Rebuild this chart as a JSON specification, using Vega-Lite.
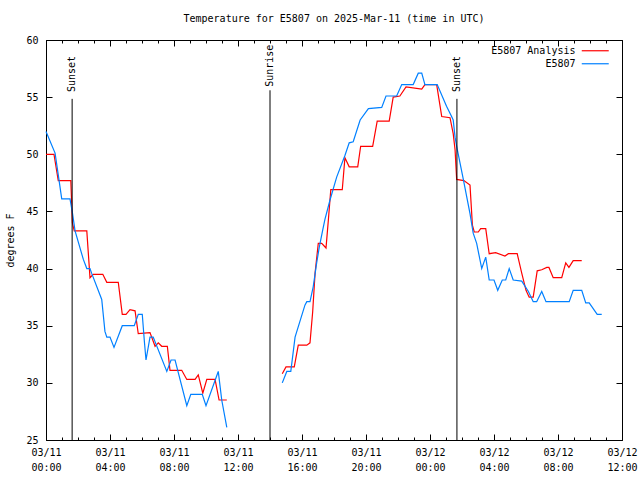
{
  "$schema": "https://vega.github.io/schema/vega-lite/v6.json",
  "width": 576,
  "height": 400,
  "autosize": {"type": "none"},
  "padding": {"left": 46, "top": 40, "right": 18, "bottom": 40},
  "background": "white",
  "title": {"text": "Temperature for E5807 on 2025-Mar-11 (time in UTC)", "font": "DejaVu Sans Mono", "fontSize": 10, "fontWeight": "normal", "anchor": "middle", "offset": 11, "color": "black"},
  "config": {
    "view": {"stroke": "black", "strokeWidth": 1},
    "axis": {"labelFont": "DejaVu Sans Mono", "labelFontSize": 10, "titleFont": "DejaVu Sans Mono", "titleFontSize": 10, "titleFontWeight": "normal", "labelColor": "black", "titleColor": "black", "tickColor": "black", "domain": false, "grid": false},
    "legend": {"labelFont": "DejaVu Sans Mono", "labelFontSize": 10, "labelColor": "black"}
  },
  "datasets": {
    "obs": [
      {"series": "E5807 Analysis", "seg": 1, "time": "2025-03-11T00:00Z", "temp": 50.0},
      {"series": "E5807 Analysis", "seg": 1, "time": "2025-03-11T00:30Z", "temp": 50.0},
      {"series": "E5807 Analysis", "seg": 1, "time": "2025-03-11T00:46Z", "temp": 47.7},
      {"series": "E5807 Analysis", "seg": 1, "time": "2025-03-11T01:33Z", "temp": 47.7},
      {"series": "E5807 Analysis", "seg": 1, "time": "2025-03-11T01:39Z", "temp": 44.0},
      {"series": "E5807 Analysis", "seg": 1, "time": "2025-03-11T01:46Z", "temp": 43.3},
      {"series": "E5807 Analysis", "seg": 1, "time": "2025-03-11T02:33Z", "temp": 43.3},
      {"series": "E5807 Analysis", "seg": 1, "time": "2025-03-11T02:45Z", "temp": 39.2},
      {"series": "E5807 Analysis", "seg": 1, "time": "2025-03-11T02:57Z", "temp": 39.5},
      {"series": "E5807 Analysis", "seg": 1, "time": "2025-03-11T03:33Z", "temp": 39.5},
      {"series": "E5807 Analysis", "seg": 1, "time": "2025-03-11T03:48Z", "temp": 38.8},
      {"series": "E5807 Analysis", "seg": 1, "time": "2025-03-11T04:31Z", "temp": 38.8},
      {"series": "E5807 Analysis", "seg": 1, "time": "2025-03-11T04:46Z", "temp": 36.0},
      {"series": "E5807 Analysis", "seg": 1, "time": "2025-03-11T05:00Z", "temp": 36.0},
      {"series": "E5807 Analysis", "seg": 1, "time": "2025-03-11T05:15Z", "temp": 36.4},
      {"series": "E5807 Analysis", "seg": 1, "time": "2025-03-11T05:34Z", "temp": 36.3},
      {"series": "E5807 Analysis", "seg": 1, "time": "2025-03-11T05:46Z", "temp": 34.3},
      {"series": "E5807 Analysis", "seg": 1, "time": "2025-03-11T06:30Z", "temp": 34.4},
      {"series": "E5807 Analysis", "seg": 1, "time": "2025-03-11T06:49Z", "temp": 33.2},
      {"series": "E5807 Analysis", "seg": 1, "time": "2025-03-11T07:01Z", "temp": 33.5},
      {"series": "E5807 Analysis", "seg": 1, "time": "2025-03-11T07:14Z", "temp": 33.2},
      {"series": "E5807 Analysis", "seg": 1, "time": "2025-03-11T07:35Z", "temp": 33.2},
      {"series": "E5807 Analysis", "seg": 1, "time": "2025-03-11T07:45Z", "temp": 31.1},
      {"series": "E5807 Analysis", "seg": 1, "time": "2025-03-11T08:29Z", "temp": 31.1},
      {"series": "E5807 Analysis", "seg": 1, "time": "2025-03-11T08:48Z", "temp": 30.3},
      {"series": "E5807 Analysis", "seg": 1, "time": "2025-03-11T09:19Z", "temp": 30.3},
      {"series": "E5807 Analysis", "seg": 1, "time": "2025-03-11T09:31Z", "temp": 30.7},
      {"series": "E5807 Analysis", "seg": 1, "time": "2025-03-11T09:48Z", "temp": 29.1},
      {"series": "E5807 Analysis", "seg": 1, "time": "2025-03-11T10:03Z", "temp": 30.3},
      {"series": "E5807 Analysis", "seg": 1, "time": "2025-03-11T10:34Z", "temp": 30.3},
      {"series": "E5807 Analysis", "seg": 1, "time": "2025-03-11T10:49Z", "temp": 28.5},
      {"series": "E5807 Analysis", "seg": 1, "time": "2025-03-11T11:18Z", "temp": 28.5},
      {"series": "E5807 Analysis", "seg": 2, "time": "2025-03-11T14:46Z", "temp": 30.8},
      {"series": "E5807 Analysis", "seg": 2, "time": "2025-03-11T15:00Z", "temp": 31.4},
      {"series": "E5807 Analysis", "seg": 2, "time": "2025-03-11T15:31Z", "temp": 31.4},
      {"series": "E5807 Analysis", "seg": 2, "time": "2025-03-11T15:46Z", "temp": 33.3},
      {"series": "E5807 Analysis", "seg": 2, "time": "2025-03-11T16:18Z", "temp": 33.3},
      {"series": "E5807 Analysis", "seg": 2, "time": "2025-03-11T16:30Z", "temp": 33.5},
      {"series": "E5807 Analysis", "seg": 2, "time": "2025-03-11T16:40Z", "temp": 36.2},
      {"series": "E5807 Analysis", "seg": 2, "time": "2025-03-11T16:49Z", "temp": 39.6},
      {"series": "E5807 Analysis", "seg": 2, "time": "2025-03-11T17:01Z", "temp": 42.2},
      {"series": "E5807 Analysis", "seg": 2, "time": "2025-03-11T17:14Z", "temp": 42.2},
      {"series": "E5807 Analysis", "seg": 2, "time": "2025-03-11T17:30Z", "temp": 41.8},
      {"series": "E5807 Analysis", "seg": 2, "time": "2025-03-11T17:39Z", "temp": 44.3},
      {"series": "E5807 Analysis", "seg": 2, "time": "2025-03-11T17:48Z", "temp": 46.9},
      {"series": "E5807 Analysis", "seg": 2, "time": "2025-03-11T18:31Z", "temp": 46.9},
      {"series": "E5807 Analysis", "seg": 2, "time": "2025-03-11T18:41Z", "temp": 49.7},
      {"series": "E5807 Analysis", "seg": 2, "time": "2025-03-11T18:57Z", "temp": 48.9},
      {"series": "E5807 Analysis", "seg": 2, "time": "2025-03-11T19:29Z", "temp": 48.9},
      {"series": "E5807 Analysis", "seg": 2, "time": "2025-03-11T19:40Z", "temp": 50.7},
      {"series": "E5807 Analysis", "seg": 2, "time": "2025-03-11T20:25Z", "temp": 50.7},
      {"series": "E5807 Analysis", "seg": 2, "time": "2025-03-11T20:42Z", "temp": 52.9},
      {"series": "E5807 Analysis", "seg": 2, "time": "2025-03-11T21:27Z", "temp": 52.9},
      {"series": "E5807 Analysis", "seg": 2, "time": "2025-03-11T21:42Z", "temp": 55.0},
      {"series": "E5807 Analysis", "seg": 2, "time": "2025-03-11T22:07Z", "temp": 55.1},
      {"series": "E5807 Analysis", "seg": 2, "time": "2025-03-11T22:30Z", "temp": 55.9},
      {"series": "E5807 Analysis", "seg": 2, "time": "2025-03-11T23:29Z", "temp": 55.7},
      {"series": "E5807 Analysis", "seg": 2, "time": "2025-03-11T23:41Z", "temp": 56.1},
      {"series": "E5807 Analysis", "seg": 2, "time": "2025-03-12T00:25Z", "temp": 56.1},
      {"series": "E5807 Analysis", "seg": 2, "time": "2025-03-12T00:44Z", "temp": 53.3},
      {"series": "E5807 Analysis", "seg": 2, "time": "2025-03-12T01:15Z", "temp": 53.2},
      {"series": "E5807 Analysis", "seg": 2, "time": "2025-03-12T01:27Z", "temp": 51.8},
      {"series": "E5807 Analysis", "seg": 2, "time": "2025-03-12T01:34Z", "temp": 50.4},
      {"series": "E5807 Analysis", "seg": 2, "time": "2025-03-12T01:40Z", "temp": 47.8},
      {"series": "E5807 Analysis", "seg": 2, "time": "2025-03-12T02:07Z", "temp": 47.7},
      {"series": "E5807 Analysis", "seg": 2, "time": "2025-03-12T02:30Z", "temp": 47.3},
      {"series": "E5807 Analysis", "seg": 2, "time": "2025-03-12T02:39Z", "temp": 43.8},
      {"series": "E5807 Analysis", "seg": 2, "time": "2025-03-12T02:46Z", "temp": 43.2},
      {"series": "E5807 Analysis", "seg": 2, "time": "2025-03-12T03:01Z", "temp": 43.2},
      {"series": "E5807 Analysis", "seg": 2, "time": "2025-03-12T03:10Z", "temp": 43.5},
      {"series": "E5807 Analysis", "seg": 2, "time": "2025-03-12T03:29Z", "temp": 43.5},
      {"series": "E5807 Analysis", "seg": 2, "time": "2025-03-12T03:42Z", "temp": 41.3},
      {"series": "E5807 Analysis", "seg": 2, "time": "2025-03-12T04:06Z", "temp": 41.4},
      {"series": "E5807 Analysis", "seg": 2, "time": "2025-03-12T04:41Z", "temp": 41.1},
      {"series": "E5807 Analysis", "seg": 2, "time": "2025-03-12T04:54Z", "temp": 41.3},
      {"series": "E5807 Analysis", "seg": 2, "time": "2025-03-12T05:27Z", "temp": 41.3},
      {"series": "E5807 Analysis", "seg": 2, "time": "2025-03-12T05:44Z", "temp": 39.6},
      {"series": "E5807 Analysis", "seg": 2, "time": "2025-03-12T06:00Z", "temp": 38.1},
      {"series": "E5807 Analysis", "seg": 2, "time": "2025-03-12T06:12Z", "temp": 37.5},
      {"series": "E5807 Analysis", "seg": 2, "time": "2025-03-12T06:27Z", "temp": 37.5},
      {"series": "E5807 Analysis", "seg": 2, "time": "2025-03-12T06:42Z", "temp": 39.8},
      {"series": "E5807 Analysis", "seg": 2, "time": "2025-03-12T06:59Z", "temp": 39.9},
      {"series": "E5807 Analysis", "seg": 2, "time": "2025-03-12T07:18Z", "temp": 40.1},
      {"series": "E5807 Analysis", "seg": 2, "time": "2025-03-12T07:26Z", "temp": 40.1},
      {"series": "E5807 Analysis", "seg": 2, "time": "2025-03-12T07:42Z", "temp": 39.2},
      {"series": "E5807 Analysis", "seg": 2, "time": "2025-03-12T08:14Z", "temp": 39.2},
      {"series": "E5807 Analysis", "seg": 2, "time": "2025-03-12T08:29Z", "temp": 40.5},
      {"series": "E5807 Analysis", "seg": 2, "time": "2025-03-12T08:41Z", "temp": 40.1},
      {"series": "E5807 Analysis", "seg": 2, "time": "2025-03-12T08:57Z", "temp": 40.7},
      {"series": "E5807 Analysis", "seg": 2, "time": "2025-03-12T09:29Z", "temp": 40.7},
      {"series": "E5807", "seg": 1, "time": "2025-03-11T00:00Z", "temp": 52.0},
      {"series": "E5807", "seg": 1, "time": "2025-03-11T00:34Z", "temp": 50.1},
      {"series": "E5807", "seg": 1, "time": "2025-03-11T00:46Z", "temp": 48.2},
      {"series": "E5807", "seg": 1, "time": "2025-03-11T00:59Z", "temp": 46.1},
      {"series": "E5807", "seg": 1, "time": "2025-03-11T01:30Z", "temp": 46.1},
      {"series": "E5807", "seg": 1, "time": "2025-03-11T01:39Z", "temp": 44.9},
      {"series": "E5807", "seg": 1, "time": "2025-03-11T01:49Z", "temp": 43.3},
      {"series": "E5807", "seg": 1, "time": "2025-03-11T02:20Z", "temp": 40.8},
      {"series": "E5807", "seg": 1, "time": "2025-03-11T02:33Z", "temp": 40.0},
      {"series": "E5807", "seg": 1, "time": "2025-03-11T02:45Z", "temp": 40.0},
      {"series": "E5807", "seg": 1, "time": "2025-03-11T02:51Z", "temp": 39.6},
      {"series": "E5807", "seg": 1, "time": "2025-03-11T03:29Z", "temp": 37.3},
      {"series": "E5807", "seg": 1, "time": "2025-03-11T03:41Z", "temp": 34.5},
      {"series": "E5807", "seg": 1, "time": "2025-03-11T03:48Z", "temp": 34.0},
      {"series": "E5807", "seg": 1, "time": "2025-03-11T04:00Z", "temp": 34.0},
      {"series": "E5807", "seg": 1, "time": "2025-03-11T04:15Z", "temp": 33.1},
      {"series": "E5807", "seg": 1, "time": "2025-03-11T04:46Z", "temp": 35.0},
      {"series": "E5807", "seg": 1, "time": "2025-03-11T05:31Z", "temp": 35.0},
      {"series": "E5807", "seg": 1, "time": "2025-03-11T05:46Z", "temp": 36.0},
      {"series": "E5807", "seg": 1, "time": "2025-03-11T06:01Z", "temp": 36.0},
      {"series": "E5807", "seg": 1, "time": "2025-03-11T06:09Z", "temp": 33.6},
      {"series": "E5807", "seg": 1, "time": "2025-03-11T06:15Z", "temp": 32.0},
      {"series": "E5807", "seg": 1, "time": "2025-03-11T06:30Z", "temp": 34.0},
      {"series": "E5807", "seg": 1, "time": "2025-03-11T06:42Z", "temp": 34.0},
      {"series": "E5807", "seg": 1, "time": "2025-03-11T07:33Z", "temp": 31.0},
      {"series": "E5807", "seg": 1, "time": "2025-03-11T07:49Z", "temp": 32.0},
      {"series": "E5807", "seg": 1, "time": "2025-03-11T08:04Z", "temp": 32.0},
      {"series": "E5807", "seg": 1, "time": "2025-03-11T08:48Z", "temp": 28.0},
      {"series": "E5807", "seg": 1, "time": "2025-03-11T09:03Z", "temp": 29.0},
      {"series": "E5807", "seg": 1, "time": "2025-03-11T09:46Z", "temp": 29.0},
      {"series": "E5807", "seg": 1, "time": "2025-03-11T10:00Z", "temp": 28.0},
      {"series": "E5807", "seg": 1, "time": "2025-03-11T10:46Z", "temp": 31.0},
      {"series": "E5807", "seg": 1, "time": "2025-03-11T10:59Z", "temp": 28.5},
      {"series": "E5807", "seg": 1, "time": "2025-03-11T11:18Z", "temp": 26.1},
      {"series": "E5807", "seg": 2, "time": "2025-03-11T14:46Z", "temp": 30.0},
      {"series": "E5807", "seg": 2, "time": "2025-03-11T15:03Z", "temp": 31.0},
      {"series": "E5807", "seg": 2, "time": "2025-03-11T15:18Z", "temp": 31.0},
      {"series": "E5807", "seg": 2, "time": "2025-03-11T15:34Z", "temp": 34.0},
      {"series": "E5807", "seg": 2, "time": "2025-03-11T16:11Z", "temp": 36.8},
      {"series": "E5807", "seg": 2, "time": "2025-03-11T16:18Z", "temp": 37.1},
      {"series": "E5807", "seg": 2, "time": "2025-03-11T16:30Z", "temp": 37.1},
      {"series": "E5807", "seg": 2, "time": "2025-03-11T16:42Z", "temp": 38.4},
      {"series": "E5807", "seg": 2, "time": "2025-03-11T16:55Z", "temp": 40.5},
      {"series": "E5807", "seg": 2, "time": "2025-03-11T17:05Z", "temp": 41.9},
      {"series": "E5807", "seg": 2, "time": "2025-03-11T17:18Z", "temp": 43.4},
      {"series": "E5807", "seg": 2, "time": "2025-03-11T17:26Z", "temp": 44.3},
      {"series": "E5807", "seg": 2, "time": "2025-03-11T17:45Z", "temp": 46.0},
      {"series": "E5807", "seg": 2, "time": "2025-03-11T18:10Z", "temp": 48.0},
      {"series": "E5807", "seg": 2, "time": "2025-03-11T18:41Z", "temp": 49.9},
      {"series": "E5807", "seg": 2, "time": "2025-03-11T18:57Z", "temp": 51.0},
      {"series": "E5807", "seg": 2, "time": "2025-03-11T19:12Z", "temp": 51.1},
      {"series": "E5807", "seg": 2, "time": "2025-03-11T19:38Z", "temp": 53.0},
      {"series": "E5807", "seg": 2, "time": "2025-03-11T20:09Z", "temp": 54.0},
      {"series": "E5807", "seg": 2, "time": "2025-03-11T20:59Z", "temp": 54.1},
      {"series": "E5807", "seg": 2, "time": "2025-03-11T21:15Z", "temp": 55.1},
      {"series": "E5807", "seg": 2, "time": "2025-03-11T21:55Z", "temp": 55.1},
      {"series": "E5807", "seg": 2, "time": "2025-03-11T22:14Z", "temp": 56.1},
      {"series": "E5807", "seg": 2, "time": "2025-03-11T22:57Z", "temp": 56.1},
      {"series": "E5807", "seg": 2, "time": "2025-03-11T23:16Z", "temp": 57.1},
      {"series": "E5807", "seg": 2, "time": "2025-03-11T23:29Z", "temp": 57.1},
      {"series": "E5807", "seg": 2, "time": "2025-03-11T23:41Z", "temp": 56.1},
      {"series": "E5807", "seg": 2, "time": "2025-03-12T00:27Z", "temp": 56.1},
      {"series": "E5807", "seg": 2, "time": "2025-03-12T01:02Z", "temp": 54.2},
      {"series": "E5807", "seg": 2, "time": "2025-03-12T01:21Z", "temp": 53.3},
      {"series": "E5807", "seg": 2, "time": "2025-03-12T01:27Z", "temp": 53.0},
      {"series": "E5807", "seg": 2, "time": "2025-03-12T01:34Z", "temp": 51.5},
      {"series": "E5807", "seg": 2, "time": "2025-03-12T01:40Z", "temp": 50.7},
      {"series": "E5807", "seg": 2, "time": "2025-03-12T02:05Z", "temp": 47.8},
      {"series": "E5807", "seg": 2, "time": "2025-03-12T02:30Z", "temp": 44.8},
      {"series": "E5807", "seg": 2, "time": "2025-03-12T02:42Z", "temp": 43.1},
      {"series": "E5807", "seg": 2, "time": "2025-03-12T02:55Z", "temp": 42.2},
      {"series": "E5807", "seg": 2, "time": "2025-03-12T03:14Z", "temp": 40.0},
      {"series": "E5807", "seg": 2, "time": "2025-03-12T03:29Z", "temp": 41.0},
      {"series": "E5807", "seg": 2, "time": "2025-03-12T03:42Z", "temp": 39.0},
      {"series": "E5807", "seg": 2, "time": "2025-03-12T04:00Z", "temp": 39.0},
      {"series": "E5807", "seg": 2, "time": "2025-03-12T04:14Z", "temp": 38.1},
      {"series": "E5807", "seg": 2, "time": "2025-03-12T04:31Z", "temp": 39.0},
      {"series": "E5807", "seg": 2, "time": "2025-03-12T04:44Z", "temp": 39.0},
      {"series": "E5807", "seg": 2, "time": "2025-03-12T04:57Z", "temp": 40.0},
      {"series": "E5807", "seg": 2, "time": "2025-03-12T05:12Z", "temp": 39.0},
      {"series": "E5807", "seg": 2, "time": "2025-03-12T05:44Z", "temp": 38.9},
      {"series": "E5807", "seg": 2, "time": "2025-03-12T06:09Z", "temp": 38.0},
      {"series": "E5807", "seg": 2, "time": "2025-03-12T06:27Z", "temp": 37.1},
      {"series": "E5807", "seg": 2, "time": "2025-03-12T06:40Z", "temp": 37.1},
      {"series": "E5807", "seg": 2, "time": "2025-03-12T06:59Z", "temp": 38.0},
      {"series": "E5807", "seg": 2, "time": "2025-03-12T07:15Z", "temp": 37.1},
      {"series": "E5807", "seg": 2, "time": "2025-03-12T08:42Z", "temp": 37.1},
      {"series": "E5807", "seg": 2, "time": "2025-03-12T08:57Z", "temp": 38.1},
      {"series": "E5807", "seg": 2, "time": "2025-03-12T09:29Z", "temp": 38.1},
      {"series": "E5807", "seg": 2, "time": "2025-03-12T09:44Z", "temp": 37.0},
      {"series": "E5807", "seg": 2, "time": "2025-03-12T09:57Z", "temp": 37.0},
      {"series": "E5807", "seg": 2, "time": "2025-03-12T10:27Z", "temp": 36.0},
      {"series": "E5807", "seg": 2, "time": "2025-03-12T10:44Z", "temp": 36.0}
    ],
    "events": [
      {"time": "2025-03-11T01:38Z", "event": "Sunset"},
      {"time": "2025-03-11T14:00Z", "event": "Sunrise"},
      {"time": "2025-03-12T01:41Z", "event": "Sunset"}
    ]
  },
  "resolve": {"scale": {"x": "shared", "y": "shared"}, "axis": {"x": "independent", "y": "independent"}},
  "layer": [
    {
      "data": {"name": "obs"},
      "mark": {"type": "line", "strokeWidth": 1.2},
      "encoding": {
        "x": {"field": "time", "type": "temporal",
          "scale": {"type": "utc", "domain": [1741651200000, 1741780800000]},
          "axis": {"orient": "bottom", "title": null, "ticks": false, "values": [1741651200000, 1741665600000, 1741680000000, 1741694400000, 1741708800000, 1741723200000, 1741737600000, 1741752000000, 1741766400000, 1741780800000], "labelExpr": "[utcFormat(datum.value, '%m/%d'), utcFormat(datum.value, '%H:%M')]", "labelBaseline": "top", "labelPadding": 7, "labelLineHeight": 15, "labelOverlap": false, "labelFlush": false, "labelAlign": "center"}},
        "y": {"field": "temp", "type": "quantitative",
          "scale": {"domain": [25, 60], "nice": false, "zero": false},
          "axis": {"orient": "left", "ticks": false, "values": [25, 30, 35, 40, 45, 50, 55, 60], "labelPadding": 8, "title": "degrees F", "titleX": -36, "titleY": 200, "titleAngle": 270, "titleAlign": "center", "titleBaseline": "middle"}},
        "color": {"field": "series", "type": "nominal",
          "scale": {"domain": ["E5807 Analysis", "E5807"], "range": ["#ff0000", "#0080ff"]},
          "legend": {"orient": "none", "title": null, "legendX": 541.75, "legendY": 3.25, "padding": 0, "rowPadding": 0, "symbolType": "M-2,0L2,0", "symbolSize": 182, "symbolStrokeWidth": 1.2, "labelAlign": "right", "labelOffset": -27.25, "labelBaseline": "middle"}},
        "detail": {"field": "seg", "type": "nominal"}
      }
    },
    {
      "data": {"name": "events"},
      "transform": [{"filter": "datum.event === 'Sunset'"}],
      "mark": {"type": "rule", "color": "black", "strokeWidth": 1},
      "encoding": {
        "x": {"field": "time", "type": "temporal", "scale": {"type": "utc"},
          "axis": {"orient": "bottom", "title": null, "labels": false, "tickSize": -6, "values": [1741651200000, 1741665600000, 1741680000000, 1741694400000, 1741708800000, 1741723200000, 1741737600000, 1741752000000, 1741766400000, 1741780800000]}},
        "y": {"datum": 54.85, "type": "quantitative",
          "axis": {"orient": "left", "title": null, "labels": false, "tickSize": -6, "values": [25, 30, 35, 40, 45, 50, 55, 60]}},
        "y2": {"datum": 25}
      }
    },
    {
      "data": {"name": "events"},
      "transform": [{"filter": "datum.event === 'Sunrise'"}],
      "mark": {"type": "rule", "color": "black", "strokeWidth": 1},
      "encoding": {
        "x": {"field": "time", "type": "temporal", "scale": {"type": "utc"},
          "axis": {"orient": "top", "title": null, "labels": false, "tickSize": -6, "values": [1741651200000, 1741665600000, 1741680000000, 1741694400000, 1741708800000, 1741723200000, 1741737600000, 1741752000000, 1741766400000, 1741780800000]}},
        "y": {"datum": 55.6, "type": "quantitative",
          "axis": {"orient": "right", "title": null, "labels": false, "tickSize": -6, "values": [25, 30, 35, 40, 45, 50, 55, 60]}},
        "y2": {"datum": 25}
      }
    },
    {
      "data": {"name": "events"},
      "transform": [{"filter": "datum.event === 'Sunset'"}],
      "mark": {"type": "text", "angle": 270, "align": "left", "baseline": "middle", "font": "DejaVu Sans Mono", "fontSize": 10, "color": "black"},
      "encoding": {
        "x": {"field": "time", "type": "temporal", "scale": {"type": "utc"},
          "axis": {"orient": "bottom", "title": null, "labels": false, "tickSize": -3, "values": [1741651200000, 1741654800000, 1741658400000, 1741662000000, 1741665600000, 1741669200000, 1741672800000, 1741676400000, 1741680000000, 1741683600000, 1741687200000, 1741690800000, 1741694400000, 1741698000000, 1741701600000, 1741705200000, 1741708800000, 1741712400000, 1741716000000, 1741719600000, 1741723200000, 1741726800000, 1741730400000, 1741734000000, 1741737600000, 1741741200000, 1741744800000, 1741748400000, 1741752000000, 1741755600000, 1741759200000, 1741762800000, 1741766400000, 1741770000000, 1741773600000, 1741777200000, 1741780800000]}},
        "y": {"datum": 55.45, "type": "quantitative", "axis": null},
        "text": {"field": "event", "type": "nominal"}
      }
    },
    {
      "data": {"name": "events"},
      "transform": [{"filter": "datum.event === 'Sunrise'"}],
      "mark": {"type": "text", "angle": 270, "align": "left", "baseline": "middle", "font": "DejaVu Sans Mono", "fontSize": 10, "color": "black"},
      "encoding": {
        "x": {"field": "time", "type": "temporal", "scale": {"type": "utc"},
          "axis": {"orient": "top", "title": null, "labels": false, "tickSize": -3, "values": [1741651200000, 1741654800000, 1741658400000, 1741662000000, 1741665600000, 1741669200000, 1741672800000, 1741676400000, 1741680000000, 1741683600000, 1741687200000, 1741690800000, 1741694400000, 1741698000000, 1741701600000, 1741705200000, 1741708800000, 1741712400000, 1741716000000, 1741719600000, 1741723200000, 1741726800000, 1741730400000, 1741734000000, 1741737600000, 1741741200000, 1741744800000, 1741748400000, 1741752000000, 1741755600000, 1741759200000, 1741762800000, 1741766400000, 1741770000000, 1741773600000, 1741777200000, 1741780800000]}},
        "y": {"datum": 55.9, "type": "quantitative", "axis": null},
        "text": {"field": "event", "type": "nominal"}
      }
    }
  ]
}
